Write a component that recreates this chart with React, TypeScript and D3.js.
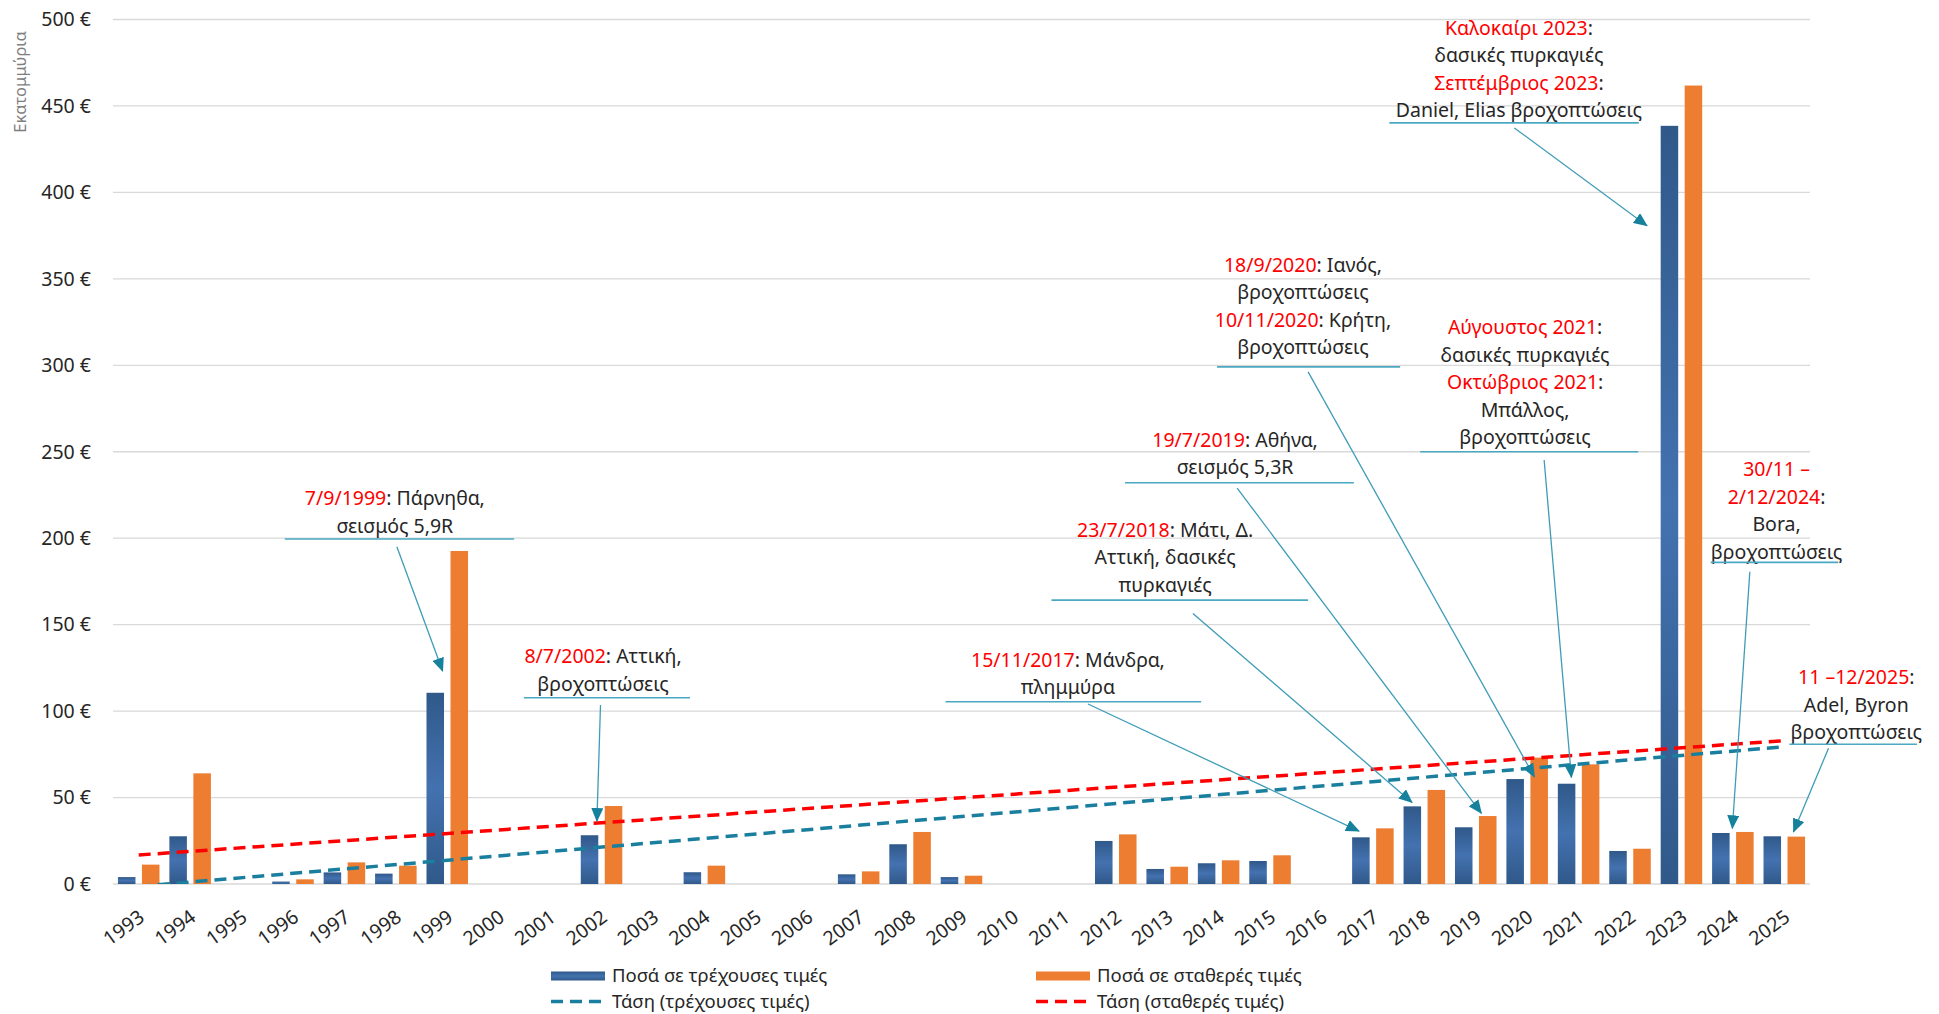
import React, { useRef, useEffect } from 'react';
import * as d3 from 'd3';

// categories
const years = [
  1993, 1994, 1995, 1996, 1997, 1998, 1999, 2000, 2001, 2002, 2003, 2004, 2005, 2006, 2007, 2008, 2009,
  2010, 2011, 2012, 2013, 2014, 2015, 2016, 2017, 2018, 2019, 2020, 2021, 2022, 2023, 2024, 2025,
];

// million € (null = no bar)
const currentPrices = [
  4.0, 27.6, null, 1.4, 6.7, 6.0, 110.6, null, null, 28.2, null, 6.8, null, null, 5.6, 23.0, 4.0,
  null, null, 24.9, 8.7, 12.0, 13.3, null, 27.0, 44.9, 32.8, 60.7, 58.0, 19.1, 438.5, 29.5, 27.6,
];
const constantPrices = [
  11.2, 64.0, null, 2.7, 12.5, 10.6, 192.6, null, null, 45.1, null, 10.6, null, null, 7.3, 30.1, 4.8,
  null, null, 28.7, 10.0, 13.7, 16.6, null, 32.2, 54.4, 39.3, 73.1, 69.2, 20.4, 461.8, 30.1, 27.4,
];

// trend line end points
const trendCurrent = [
  { year: 1993, value: -1.4 },
  { year: 2025, value: 79.4 },
];
const trendConstant = [
  { year: 1993, value: 16.8 },
  { year: 2025, value: 82.9 },
];

const yTicks = [0, 50, 100, 150, 200, 250, 300, 350, 400, 450, 500];

const seriesNames = ['Ποσά σε τρέχουσες τιμές', 'Ποσά σε σταθερές τιμές'];
const trendNames = ['Τάση (τρέχουσες τιμές)', 'Τάση (σταθερές τιμές)'];

// callouts: text lines as [red part, black part]; positions in (year, value) units
const annotations = [
  {
    lines: [['7/9/1999', ': Πάρνηθα,'], ['', 'σεισμός 5,9R']],
    cx: 1997.98, top: 219.2, ul: [1995.84, 2000.3, 199.5], from: [1998.02, 195.0], to: [1998.91, 123.2],
  },
  {
    lines: [['8/7/2002', ': Αττική,'], ['', 'βροχοπτώσεις']],
    cx: 2002.03, top: 127.8, ul: [2000.49, 2003.72, 107.7], from: [2001.98, 103.5], to: [2001.91, 36.4],
  },
  {
    lines: [['15/11/2017', ': Μάνδρα,'], ['', 'πλημμύρα']],
    cx: 2011.07, top: 125.7, ul: [2008.69, 2013.66, 105.4], from: [2011.46, 104.1], to: [2016.73, 30.6],
  },
  {
    lines: [['23/7/2018', ': Μάτι, Δ.'], ['', 'Αττική, δασικές'], ['', 'πυρκαγιές']],
    cx: 2012.96, top: 200.8, ul: [2010.75, 2015.74, 164.2], from: [2013.5, 156.5], to: [2017.76, 47.2],
  },
  {
    lines: [['19/7/2019', ': Αθήνα,'], ['', 'σεισμός 5,3R']],
    cx: 2014.32, top: 252.9, ul: [2012.18, 2016.63, 232.1], from: [2014.36, 229.0], to: [2019.11, 40.9],
  },
  {
    lines: [['18/9/2020', ': Ιανός,'], ['', 'βροχοπτώσεις'], ['10/11/2020', ': Κρήτη,'], ['', 'βροχοπτώσεις']],
    cx: 2015.64, top: 354.1, ul: [2013.97, 2017.53, 299.1], from: [2015.74, 296.2], to: [2020.14, 62.0],
  },
  {
    lines: [
      ['Αύγουστος 2021', ':'], ['', 'δασικές πυρκαγιές'], ['Οκτώβριος 2021', ':'],
      ['', 'Μπάλλος,'], ['', 'βροχοπτώσεις'],
    ],
    cx: 2019.96, top: 318.0, ul: [2017.92, 2022.16, 250.0], from: [2020.33, 245.2], to: [2020.86, 61.7],
  },
  {
    lines: [
      ['Καλοκαίρι 2023', ':'], ['', 'δασικές πυρκαγιές'], ['Σεπτέμβριος 2023', ':'],
      ['', 'Daniel, Elias βροχοπτώσεις'],
    ],
    cx: 2019.84, top: 491.3, ul: [2017.32, 2022.17, 440.2], from: [2019.75, 437.3], to: [2022.33, 380.7],
  },
  {
    lines: [['30/11 –', ''], ['2/12/2024', ':'], ['', 'Bora,'], ['', 'βροχοπτώσεις']],
    cx: 2024.85, top: 235.9, ul: [2023.57, 2026.05, 186.0], from: [2024.33, 180.6], to: [2023.99, 32.2],
  },
  {
    lines: [['11 –12/2025', ':'], ['', 'Adel, Byron'], ['', 'βροχοπτώσεις']],
    cx: 2026.4, top: 115.5, ul: [2025.1, 2027.58, 80.8], from: [2025.86, 78.5], to: [2025.18, 30.2],
  },
];

function App() {
  const svgRef = useRef(null);

  useEffect(() => {
    const svg = d3.select(svgRef.current);
    svg.selectAll('*').remove();

    const width = 1939;
    const height = 1014;
    const margin = { top: 19.5, right: 129, bottom: 130, left: 113 };
    const font = '"Noto Sans", sans-serif';
    const blue = '#4472b0';
    const orange = '#ed7d31';
    const trendBlue = '#1a7f9f';
    const trendRed = '#ff0000';
    const calloutColor = '#3f9cb7';

    const x = d3
      .scaleBand()
      .domain(years)
      .range([margin.left, width - margin.right])
      .padding(0);
    const inner = d3
      .scaleBand()
      .domain([0, 1])
      .range([0, x.bandwidth()])
      .paddingInner(0.27)
      .paddingOuter(0.206);
    // continuous year scale, band centres at whole years
    const xYear = d3
      .scaleLinear()
      .domain([years[0] - 0.5, years[years.length - 1] + 0.5])
      .range([margin.left, width - margin.right]);
    const y = d3
      .scaleLinear()
      .domain([0, 500])
      .range([height - margin.bottom, margin.top]);

    const defs = svg.append('defs');
    const grad = defs
      .append('linearGradient')
      .attr('id', 'blueGrad')
      .attr('x1', 0)
      .attr('y1', 0)
      .attr('x2', 0)
      .attr('y2', 1);
    grad.append('stop').attr('offset', '0%').attr('stop-color', '#30598a');
    grad.append('stop').attr('offset', '50%').attr('stop-color', blue);
    grad.append('stop').attr('offset', '100%').attr('stop-color', '#30598a');

    defs
      .append('clipPath')
      .attr('id', 'plotClip')
      .append('rect')
      .attr('x', margin.left)
      .attr('y', margin.top)
      .attr('width', width - margin.left - margin.right)
      .attr('height', y(0) - margin.top);

    defs
      .append('marker')
      .attr('id', 'arrowHead')
      .attr('markerUnits', 'userSpaceOnUse')
      .attr('viewBox', '0 0 14 12')
      .attr('refX', 13)
      .attr('refY', 6)
      .attr('markerWidth', 14)
      .attr('markerHeight', 12)
      .attr('orient', 'auto')
      .append('path')
      .attr('d', 'M0,0 L14,6 L0,12 Z')
      .attr('fill', '#15819d');

    // gridlines + y labels
    const grid = svg.append('g');
    grid
      .selectAll('line')
      .data(yTicks)
      .enter()
      .append('line')
      .attr('x1', margin.left)
      .attr('x2', width - margin.right)
      .attr('y1', (d) => y(d))
      .attr('y2', (d) => y(d))
      .attr('stroke', '#d9d9d9')
      .attr('stroke-width', 1.3);
    grid
      .selectAll('text')
      .data(yTicks)
      .enter()
      .append('text')
      .attr('x', 91)
      .attr('y', (d) => y(d))
      .attr('dy', '0.35em')
      .attr('text-anchor', 'end')
      .attr('font-family', font)
      .attr('font-size', 19.5)
      .attr('fill', '#262626')
      .text((d) => `${d} €`);

    svg
      .append('text')
      .attr('transform', 'translate(26,82) rotate(-90)')
      .attr('text-anchor', 'middle')
      .attr('font-family', font)
      .attr('font-size', 16.5)
      .attr('fill', '#7f7f7f')
      .text('Εκατομμύρια');

    // year labels
    svg
      .append('g')
      .selectAll('text')
      .data(years)
      .enter()
      .append('text')
      .attr('transform', (d) => `translate(${xYear(d) + 7},920) rotate(-36)`)
      .attr('text-anchor', 'end')
      .attr('font-family', font)
      .attr('font-size', 19.5)
      .attr('fill', '#262626')
      .text((d) => d);

    // bars
    const series = [currentPrices, constantPrices];
    const fills = ['url(#blueGrad)', orange];
    series.forEach((values, si) => {
      svg
        .append('g')
        .selectAll('rect')
        .data(years.map((yr, i) => ({ yr, v: values[i] })).filter((d) => d.v != null))
        .enter()
        .append('rect')
        .attr('x', (d) => x(d.yr) + inner(si))
        .attr('y', (d) => y(d.v))
        .attr('width', inner.bandwidth())
        .attr('height', (d) => y(0) - y(d.v))
        .attr('fill', fills[si]);
    });

    // trend lines
    const trendLine = d3
      .line()
      .x((d) => xYear(d.year))
      .y((d) => y(d.value));
    [
      [trendCurrent, trendBlue],
      [trendConstant, trendRed],
    ].forEach(([pts, col]) => {
      svg
        .append('path')
        .attr('d', trendLine(pts))
        .attr('clip-path', 'url(#plotClip)')
        .attr('fill', 'none')
        .attr('stroke', col)
        .attr('stroke-width', 3.5)
        .attr('stroke-dasharray', '12 7');
    });

    // callouts
    const lineGap = 27.5;
    const ann = svg.append('g');
    annotations.forEach((a) => {
      const g = ann.append('g');
      a.lines.forEach((ln, li) => {
        const t = g
          .append('text')
          .attr('x', xYear(a.cx))
          .attr('y', y(a.top) + li * lineGap)
          .attr('text-anchor', 'middle')
          .attr('font-family', font)
          .attr('font-size', 19.5);
        if (ln[0]) t.append('tspan').attr('fill', '#ff0000').text(ln[0]);
        if (ln[1]) t.append('tspan').attr('fill', '#262626').text(ln[1]);
      });
      g.append('line')
        .attr('x1', xYear(a.ul[0]))
        .attr('x2', xYear(a.ul[1]))
        .attr('y1', y(a.ul[2]))
        .attr('y2', y(a.ul[2]))
        .attr('stroke', '#4aa8c2')
        .attr('stroke-width', 1.6);
      g.append('line')
        .attr('x1', xYear(a.from[0]))
        .attr('y1', y(a.from[1]))
        .attr('x2', xYear(a.to[0]))
        .attr('y2', y(a.to[1]))
        .attr('stroke', calloutColor)
        .attr('stroke-width', 1.3)
        .attr('marker-end', 'url(#arrowHead)');
    });

    // legend
    const legend = svg.append('g').attr('font-family', font).attr('font-size', 18.5).attr('fill', '#262626');
    const legendCols = [551, 1036];
    seriesNames.forEach((name, i) => {
      legend
        .append('rect')
        .attr('x', legendCols[i])
        .attr('y', 971.5)
        .attr('width', 54)
        .attr('height', 9)
        .attr('fill', fills[i]);
      legend
        .append('text')
        .attr('x', legendCols[i] + 61)
        .attr('y', 982)
        .text(name);
    });
    trendNames.forEach((name, i) => {
      legend
        .append('line')
        .attr('x1', legendCols[i])
        .attr('x2', legendCols[i] + 54)
        .attr('y1', 1001.5)
        .attr('y2', 1001.5)
        .attr('stroke', i === 0 ? trendBlue : trendRed)
        .attr('stroke-width', 3.5)
        .attr('stroke-dasharray', '12 7');
      legend
        .append('text')
        .attr('x', legendCols[i] + 61)
        .attr('y', 1008)
        .text(name);
    });
  }, []);

  return (
    <svg
      ref={svgRef}
      width={1939}
      height={1014}
      style={{ position: 'absolute', left: 0, top: 0, background: '#fff' }}
    ></svg>
  );
}

export default App;
